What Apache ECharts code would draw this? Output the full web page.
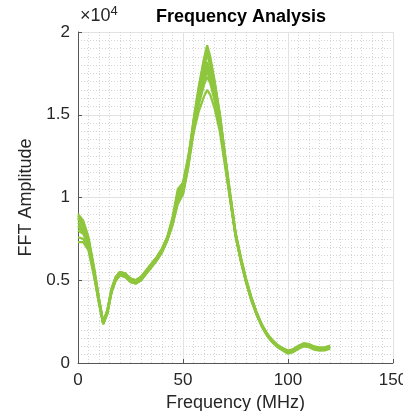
<!DOCTYPE html>
<html style="height: 100%">
<head>
	<meta charset="utf-8">
</head>
<body style="height: 100%; margin: 0">
<div id="container" style="height: 100%"></div>
<script type="text/javascript" src="https://cdn.jsdelivr.net/npm/echarts@6/dist/echarts.min.js"></script>
<script type="text/javascript">
    // frequency samples (MHz)
    var freq = [0, 2.5, 5, 7.5, 10, 12, 14, 16, 18, 20, 22.5, 25, 27.5, 30, 32.5, 35, 37.5, 40, 42.5, 45,
        47.5, 50, 52.5, 55, 57.5, 60, 61.5, 63, 65, 67.5, 70, 72.5, 75, 77.5, 80, 82.5, 85, 87.5, 90, 92.5,
        95, 97.5, 100, 102.5, 105, 107.5, 110, 112.5, 115, 117.5, 120];

    // FFT amplitude, one array per measurement
    var run1 = [9000, 8600, 7600, 5900, 3900, 2450, 3200, 4500, 5200, 5500, 5400, 5100, 5000, 5200, 5600, 6000, 6400, 6900, 7600, 8700,
        10000, 10600, 12300, 14700, 16700, 18400, 19200, 18500, 17100, 15100, 12600, 10200, 7900, 6400, 5100, 4000, 3100, 2350, 1800, 1400,
        1100, 900, 750, 850, 1050, 1200, 1150, 1000, 950, 950, 1050];
    var run2 = [8700, 8300, 7400, 5700, 3800, 2400, 3100, 4400, 5100, 5400, 5300, 5000, 4900, 5100, 5500, 5900, 6300, 6800, 7500, 8500,
        9800, 10400, 12100, 14400, 16400, 18100, 18900, 18200, 16900, 15000, 12500, 10100, 7800, 6300, 5000, 3900, 3000, 2300, 1700, 1300,
        1000, 800, 650, 750, 950, 1100, 1050, 900, 850, 850, 950];
    var run3 = [8300, 8000, 7200, 5600, 3700, 2350, 3000, 4300, 5000, 5300, 5200, 4900, 4800, 5000, 5400, 5800, 6200, 6700, 7400, 8400,
        9600, 10200, 11900, 14200, 16200, 17900, 18600, 18000, 16700, 14800, 12400, 10000, 7800, 6250, 4950, 3850, 2950, 2200, 1650, 1250,
        950, 750, 560, 660, 860, 1000, 950, 800, 750, 760, 860];
    var run4 = [8000, 7800, 7100, 5500, 3700, 2400, 3100, 4400, 5100, 5400, 5300, 5000, 4900, 5100, 5500, 5900, 6300, 6800, 7500, 8600,
        10300, 10900, 12400, 14400, 16100, 17600, 18200, 17600, 16400, 14600, 12300, 10000, 7800, 6300, 5000, 3900, 3000, 2300, 1750, 1350,
        1050, 850, 650, 750, 950, 1100, 1050, 900, 850, 850, 950];
    var run5 = [8500, 8100, 7300, 5700, 3800, 2450, 3200, 4500, 5200, 5500, 5400, 5100, 5000, 5200, 5600, 6000, 6400, 6900, 7600, 8800,
        10500, 10900, 12500, 14300, 15900, 17200, 17800, 17300, 16200, 14500, 12200, 9900, 7700, 6200, 4900, 3850, 2950, 2250, 1700, 1300,
        1000, 800, 650, 750, 950, 1100, 1050, 900, 850, 850, 950];
    var run6 = [7600, 7500, 6900, 5400, 3600, 2350, 3000, 4300, 5000, 5300, 5200, 4900, 4800, 5000, 5400, 5800, 6200, 6700, 7400, 8400,
        9900, 10500, 12000, 14000, 15600, 16800, 17300, 16900, 15900, 14300, 12100, 9900, 7700, 6200, 4900, 3850, 2950, 2250, 1700, 1300,
        1000, 800, 650, 750, 950, 1100, 1050, 900, 850, 850, 950];
    var run7 = [7300, 7300, 6800, 5300, 3600, 2400, 3100, 4400, 5100, 5400, 5300, 5000, 4900, 5100, 5500, 5900, 6300, 6800, 7500, 8600,
        10300, 10700, 12200, 13900, 15200, 16100, 16500, 16200, 15400, 14000, 11900, 9800, 7700, 6200, 4900, 3800, 2950, 2250, 1700, 1300,
        1000, 800, 650, 750, 950, 1100, 1050, 900, 850, 850, 950];
    var run8 = [8900, 8500, 7500, 5800, 3900, 2500, 3200, 4500, 5200, 5500, 5400, 5100, 5000, 5200, 5600, 6000, 6400, 6900, 7600, 8500,
        9900, 10400, 12200, 14600, 16600, 18300, 19000, 18300, 17000, 15000, 12600, 10200, 7900, 6400, 5100, 4000, 3050, 2300, 1750, 1350,
        1050, 850, 700, 800, 1000, 1150, 1100, 950, 900, 900, 1000];
    var run9 = [8200, 7900, 7200, 5600, 3700, 2350, 3000, 4300, 5000, 5300, 5200, 4900, 4800, 5000, 5400, 5800, 6200, 6700, 7400, 8300,
        9700, 10200, 11800, 13900, 15800, 17100, 17600, 17100, 16000, 14400, 12200, 9900, 7700, 6200, 4900, 3800, 2950, 2250, 1700, 1300,
        1000, 800, 600, 700, 900, 1050, 1000, 850, 800, 800, 900];
    var run10 = [8800, 8300, 7400, 5700, 3800, 2450, 3100, 4400, 5100, 5400, 5300, 5000, 4900, 5100, 5500, 5900, 6300, 6800, 7500, 8500,
        10100, 10700, 12300, 14500, 16300, 17500, 18000, 17500, 16300, 14600, 12300, 10000, 7800, 6300, 5000, 3900, 3000, 2300, 1700, 1300,
        1000, 800, 650, 750, 950, 1100, 1050, 900, 850, 850, 950];

    var runs = [run1, run2, run3, run4, run5, run6, run7, run8, run9, run10];

    var xTicks = [0, 50, 100, 150];
    var yTicks = [0, 5000, 10000, 15000, 20000];

    var dom = document.getElementById("container");
    var myChart = echarts.init(dom);

    var series = runs.map(function (r) {
        return {
            type: 'line',
            symbol: 'none',
            data: r.map(function (v, i) { return [freq[i], v]; }),
            lineStyle: { color: '#8ec63d', width: 2.2 },
            itemStyle: { color: '#8ec63d' }
        };
    });

    var font = 'Liberation Sans, Helvetica, Arial, sans-serif';

    var option = {
        backgroundColor: '#fff',
        animation: false,
        title: {
            text: 'Frequency Analysis',
            left: 236,
            top: 3,
            textAlign: 'center',
            textStyle: { fontSize: 18, fontWeight: 'bold', color: '#000', fontFamily: font }
        },
        graphic: [{
            type: 'text',
            left: 80,
            top: 5,
            style: {
                text: '×10{s|4}',
                fontSize: 18,
                fill: '#262626',
                fontFamily: font,
                rich: { s: { fontSize: 13, verticalAlign: 'top', padding: [0, 0, 10, 0], fill: '#262626' } }
            }
        }],
        grid: { left: 78, right: 10, top: 32, bottom: 48, containLabel: false, outerBoundsMode: 'none' },
        xAxis: {
            type: 'value',
            min: xTicks[0],
            max: xTicks[xTicks.length - 1],
            interval: 50,
            name: 'Frequency (MHz)',
            nameLocation: 'middle',
            nameGap: 28,
            nameTextStyle: { fontSize: 18, color: '#262626', fontFamily: font },
            axisLine: { lineStyle: { color: '#555', width: 1 } },
            axisTick: { inside: true, length: 4, lineStyle: { color: '#555' } },
            axisLabel: { fontSize: 17, color: '#262626', margin: 9, fontFamily: font },
            splitLine: { show: true, lineStyle: { color: '#e2e2e2', width: 1 } },
            minorTick: { show: false, splitNumber: 10 },
            minorSplitLine: { show: true, lineStyle: { color: '#d4d4d4', type: [1, 2], width: 1 } }
        },
        yAxis: {
            type: 'value',
            min: yTicks[0],
            max: yTicks[yTicks.length - 1],
            interval: 5000,
            name: 'FFT Amplitude',
            nameLocation: 'middle',
            nameGap: 40,
            nameTextStyle: { fontSize: 18, color: '#262626', fontFamily: font },
            axisLine: { show: true, lineStyle: { color: '#555', width: 1 } },
            axisTick: { show: true, inside: true, length: 4, lineStyle: { color: '#555' } },
            axisLabel: {
                fontSize: 17, color: '#262626', margin: 8, fontFamily: font,
                formatter: function (v) { return String(v / 10000); }
            },
            splitLine: { show: true, lineStyle: { color: '#e2e2e2', width: 1 } },
            minorTick: { show: false, splitNumber: 10 },
            minorSplitLine: { show: true, lineStyle: { color: '#d4d4d4', type: [1, 2], width: 1 } }
        },
        series: series
    };

    myChart.setOption(option);
    window.addEventListener('resize', function () {
        myChart.resize();
    });
</script>
</body>
</html>
